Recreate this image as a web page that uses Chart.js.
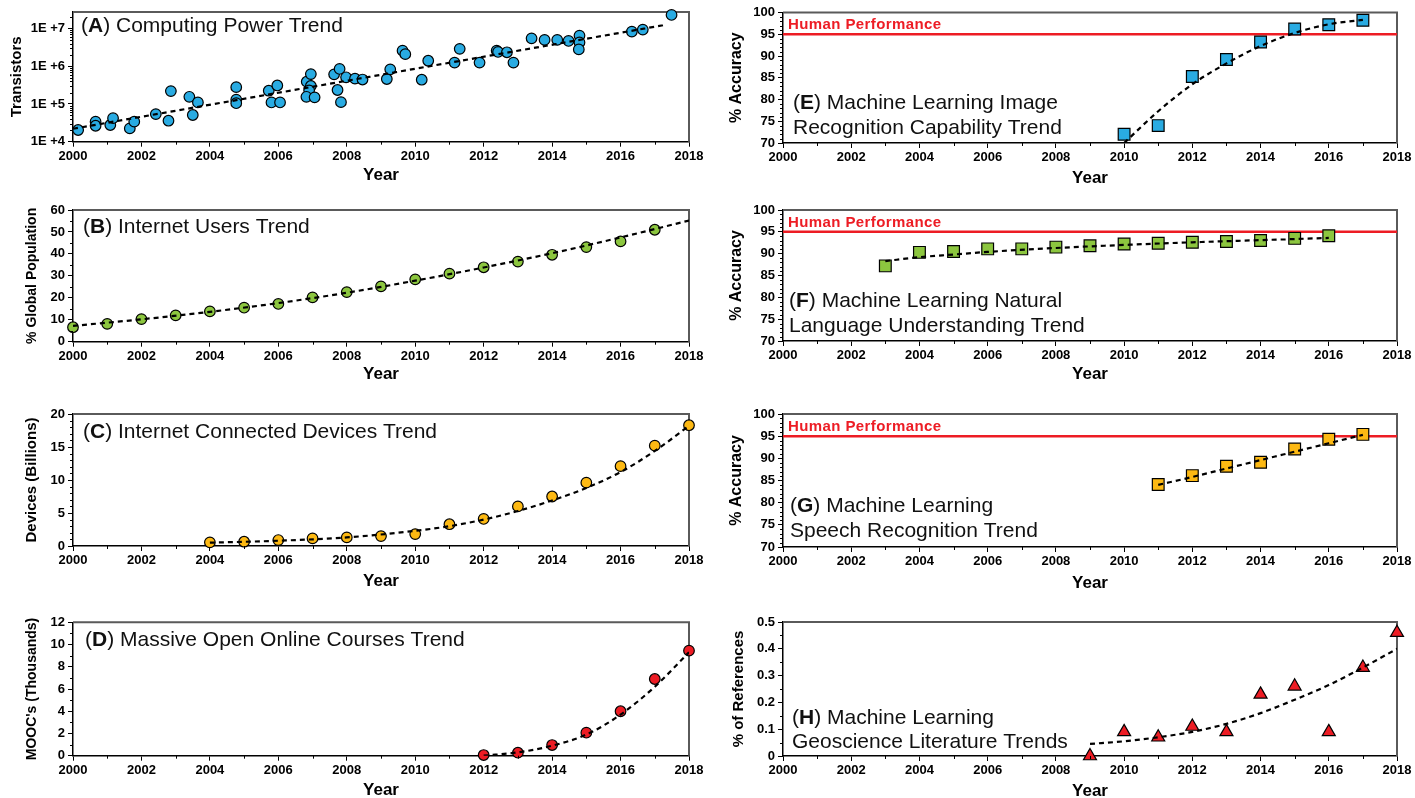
<!DOCTYPE html>
<html>
<head>
<meta charset="utf-8">
<script src="https://cdn.jsdelivr.net/npm/chart.js@4.4.1/dist/chart.umd.min.js"></script>
<style>
  html, body { margin: 0; padding: 0; background: #fff; }
  body { width: 1415px; height: 798px; position: relative; overflow: hidden; }
</style>
</head>
<body>
<script>
// (A) Computing power - transistor counts
const cpuYears = [2000.15, 2000.66, 2000.66, 2001.09, 2001.17, 2001.66, 2001.79, 2002.42, 2002.79, 2002.86,
  2003.4, 2003.5, 2003.65, 2004.77, 2004.77, 2004.77, 2005.72, 2005.8, 2005.97, 2006.05,
  2006.83, 2006.95, 2006.95, 2006.9, 2006.82, 2007.06, 2007.63, 2007.79, 2007.73, 2007.83,
  2007.98, 2008.24, 2008.46, 2009.17, 2009.27, 2009.63, 2009.71, 2010.19, 2010.38, 2011.15,
  2011.3, 2011.88, 2012.38, 2012.42, 2012.68, 2012.87, 2013.4, 2013.78, 2014.15, 2014.48,
  2014.8, 2014.8, 2014.78, 2016.33, 2016.65, 2017.49];
const cpuTransistors = [2.04e4, 3.4e4, 2.65e4, 2.77e4, 4.2e4, 2.25e4, 3.4e4, 5.4e4, 3.6e4, 2.2e5,
  1.55e5, 5.1e4, 1.1e5, 2.8e5, 1.3e5, 1.05e5, 2.25e5, 1.1e5, 3.1e5, 1.1e5,
  3.9e5, 6.2e5, 3.0e5, 2.3e5, 1.55e5, 1.5e5, 6.1e5, 8.5e5, 2.35e5, 1.12e5,
  5.1e5, 4.7e5, 4.45e5, 4.6e5, 8.3e5, 2.6e6, 2.1e6, 4.4e5, 1.4e6, 1.25e6,
  2.9e6, 1.25e6, 2.6e6, 2.4e6, 2.35e6, 1.25e6, 5.5e6, 5.0e6, 5.0e6, 4.7e6,
  6.5e6, 4.3e6, 2.8e6, 8.3e6, 9.4e6, 2.3e7];
const cpuTrendYears = [2000, 2017.3];
const cpuTrendValues = [2.2e4, 1.25e7];

// (B) Internet users, % of global population
const userYears = [2000, 2001, 2002, 2003, 2004, 2005, 2006, 2007, 2008, 2009, 2010, 2011, 2012, 2013, 2014, 2015, 2016, 2017];
const userPercent = [6.6, 8.1, 10.3, 12.0, 13.8, 15.5, 17.2, 20.2, 22.6, 25.2, 28.4, 31.0, 33.9, 36.5, 39.6, 43.1, 45.7, 51.0];
const userTrendYears = [2000, 2002, 2004, 2006, 2008, 2010, 2012, 2014, 2016, 2018];
const userTrendValues = [7.2, 10.2, 13.6, 17.6, 22.3, 27.8, 33.8, 40.3, 47.5, 55.2];

// (C) Internet connected devices, billions
const deviceYears = [2004, 2005, 2006, 2007, 2008, 2009, 2010, 2011, 2012, 2013, 2014, 2015, 2016, 2017, 2018];
const deviceBillions = [0.55, 0.65, 0.9, 1.15, 1.3, 1.5, 1.8, 3.3, 4.1, 6.0, 7.5, 9.6, 12.1, 15.2, 18.3];
const deviceTrendYears = [2004, 2006, 2008, 2010, 2011, 2012, 2013, 2014, 2015, 2016, 2017, 2018];
const deviceTrendValues = [0.5, 0.8, 1.3, 2.3, 3.0, 4.0, 5.3, 6.9, 8.8, 11.2, 14.4, 18.2];

// (D) MOOCs, thousands
const moocYears = [2012, 2013, 2014, 2015, 2016, 2017, 2018];
const moocThousands = [0.06, 0.27, 0.96, 2.07, 4.0, 6.9, 9.45];
const moocTrendYears = [2012, 2013, 2014, 2015, 2016, 2017, 2018];
const moocTrendValues = [0, 0.3, 0.9, 1.9, 3.7, 6.2, 9.3];

// (E) image recognition accuracy
const imageYears = [2010, 2011, 2012, 2013, 2014, 2015, 2016, 2017];
const imageAccuracy = [72.0, 74.0, 85.3, 89.2, 93.2, 96.2, 97.2, 98.2];
const imageTrendYears = [2010, 2011, 2012, 2013, 2014, 2015, 2016, 2017];
const imageTrendValues = [70, 77.3, 83.5, 88.3, 92.3, 95.3, 97.3, 98.3];

// (F) natural language understanding accuracy
const languageYears = [2003, 2004, 2005, 2006, 2007, 2008, 2009, 2010, 2011, 2012, 2013, 2014, 2015, 2016];
const languageAccuracy = [87.2, 90.3, 90.5, 91.1, 91.1, 91.5, 91.8, 92.2, 92.4, 92.6, 92.8, 93.0, 93.5, 94.1];
const languageTrendYears = [2003, 2004, 2005, 2006, 2008, 2010, 2012, 2014, 2016];
const languageTrendValues = [88.3, 89.2, 89.8, 90.4, 91.3, 92.0, 92.6, 93.1, 93.6];

// (G) speech recognition accuracy
const speechYears = [2011, 2012, 2013, 2014, 2015, 2016, 2017];
const speechAccuracy = [84.1, 86.1, 88.2, 89.1, 92.1, 94.3, 95.4];
const speechTrendYears = [2011, 2012, 2013, 2014, 2015, 2016, 2017];
const speechTrendValues = [84.0, 85.8, 87.7, 89.6, 91.5, 93.4, 95.3];

// (H) ML share of geoscience references, %
const geoYears = [2009, 2010, 2011, 2012, 2013, 2014, 2015, 2016, 2017, 2018];
const geoPercent = [0.0, 0.09, 0.07, 0.11, 0.09, 0.23, 0.26, 0.09, 0.33, 0.46];
const geoTrendYears = [2009, 2010, 2011, 2012, 2013, 2014, 2015, 2016, 2017, 2018];
const geoTrendValues = [0.045, 0.055, 0.07, 0.09, 0.12, 0.16, 0.21, 0.265, 0.33, 0.40];

const humanLevel = 95;

const FONT = "'Liberation Sans', Arial, Helvetica, sans-serif";
const BLUE = '#29abe2', GREEN = '#8cc63f', YELLOW = '#fdb913', RED = '#ed1c24';
const TICK_SIZE = 13;
const YEAR_SIZE = 17;

// frame, minor ticks, panel labels
const decoPlugin = {
  id: 'deco',
  beforeDatasetsDraw(chart) {
    const { ctx, chartArea: a } = chart;
    ctx.save();
    ctx.strokeStyle = '#5a5a5a';
    ctx.lineWidth = 2;
    ctx.beginPath();
    ctx.moveTo(a.left, a.top);
    ctx.lineTo(a.right, a.top);
    ctx.lineTo(a.right, a.bottom);
    ctx.stroke();
    ctx.restore();
  },
  afterDraw(chart, args, opts) {
    const { ctx, chartArea: a, scales } = chart;
    const xs = scales.x, ys = scales.y;
    ctx.save();
    ctx.strokeStyle = '#000';
    ctx.lineWidth = 1;
    ctx.beginPath();
    // minor x ticks (odd years)
    const nx = Math.round((xs.max - xs.min) / opts.xMinor);
    for (let i = 0; i <= nx; i++) {
      const v = xs.min + i * opts.xMinor;
      if (Math.abs(v / 2 - Math.round(v / 2)) < 1e-6) continue;
      const px = Math.round(xs.getPixelForValue(v)) + 0.5;
      ctx.moveTo(px, a.bottom);
      ctx.lineTo(px, a.bottom + 3);
    }
    // minor y ticks
    if (ys.type === 'logarithmic') {
      for (let k = Math.floor(Math.log10(ys.min)); k <= Math.ceil(Math.log10(ys.max)); k++) {
        for (let m = 2; m <= 9; m++) {
          const v = m * Math.pow(10, k);
          if (v < ys.min || v > ys.max) continue;
          const py = Math.round(ys.getPixelForValue(v)) + 0.5;
          ctx.moveTo(a.left, py);
          ctx.lineTo(a.left - 3, py);
        }
      }
    } else {
      const ny = Math.round((ys.max - ys.min) / opts.yMinor);
      for (let i = 0; i <= ny; i++) {
        const v = ys.min + i * opts.yMinor;
        const r = v / opts.yMajor;
        if (Math.abs(r - Math.round(r)) < 1e-6) continue;
        const py = Math.round(ys.getPixelForValue(v)) + 0.5;
        ctx.moveTo(a.left, py);
        ctx.lineTo(a.left - 3, py);
      }
    }
    ctx.stroke();

    // panel label, letter in bold
    ctx.fillStyle = '#111';
    ctx.textBaseline = 'alphabetic';
    let x = a.left + opts.dx;
    const y0 = a.top + opts.dy[0];
    ctx.font = `21px ${FONT}`;
    ctx.fillText('(', x, y0);
    x += ctx.measureText('(').width;
    ctx.font = `bold 21px ${FONT}`;
    ctx.fillText(opts.letter, x, y0);
    x += ctx.measureText(opts.letter).width;
    ctx.font = `21px ${FONT}`;
    ctx.fillText(')' + opts.lines[0], x, y0);
    for (let i = 1; i < opts.lines.length; i++) {
      ctx.fillText(opts.lines[i], a.left + opts.dx, a.top + opts.dy[i]);
    }

    if (opts.human) {
      ctx.fillStyle = RED;
      ctx.font = `bold 15px ${FONT}`;
      ctx.letterSpacing = '0.4px';
      ctx.fillText('Human Performance', a.left + 5, ys.getPixelForValue(humanLevel) - 5);
    }
    ctx.restore();
  }
};

const LEFT = { x: 0, w: 720, areaLeft: 73, areaRight: 689 };
const RIGHT = { x: 720, w: 695, areaLeft: 783, areaRight: 1397 };

const panels = [
  { ...LEFT, areaTop: 12, areaBottom: 141.7, yearY: 175.5,
    letter: 'A', lines: [' Computing Power Trend'], dx: 8, dy: [20],
    xs: cpuYears, ys: cpuTransistors, tx: cpuTrendYears, ty: cpuTrendValues,
    color: BLUE, style: 'circle', radius: 5.3,
    yType: 'logarithmic', yMin: 1e4, yMax: 2.75e7,
    yTitle: 'Transistors', yTitleSize: 15, yTitleX: 17 },
  { ...LEFT, areaTop: 210, areaBottom: 341.7, yearY: 374.5,
    letter: 'B', lines: [' Internet Users Trend'], dx: 10, dy: [23.3],
    xs: userYears, ys: userPercent, tx: userTrendYears, ty: userTrendValues,
    color: GREEN, style: 'circle', radius: 5.3,
    yMin: 0, yMax: 60, yStep: 10, yMinor: 5,
    yTitle: '% Global Population', yTitleSize: 14, yTitleX: 32 },
  { ...LEFT, areaTop: 414, areaBottom: 546, yearY: 581.5,
    letter: 'C', lines: [' Internet Connected Devices Trend'], dx: 10, dy: [24],
    xs: deviceYears, ys: deviceBillions, tx: deviceTrendYears, ty: deviceTrendValues,
    color: YELLOW, style: 'circle', radius: 5.3,
    yMin: 0, yMax: 20, yStep: 5, yMinor: 1,
    yTitle: 'Devices (Billions)', yTitleSize: 15, yTitleX: 32 },
  { ...LEFT, areaTop: 622.3, areaBottom: 755.7, yearY: 790,
    letter: 'D', lines: [' Massive Open Online Courses Trend'], dx: 12, dy: [23.7],
    xs: moocYears, ys: moocThousands, tx: moocTrendYears, ty: moocTrendValues,
    color: RED, style: 'circle', radius: 5.3,
    yMin: 0, yMax: 12, yStep: 2, yMinor: 1,
    yTitle: "MOOC's (Thousands)", yTitleSize: 14, yTitleX: 32 },
  { ...RIGHT, areaTop: 12.5, areaBottom: 143, yearY: 178,
    letter: 'E', lines: [' Machine Learning Image', 'Recognition Capability Trend'], dx: 10, dy: [96.5, 121],
    xs: imageYears, ys: imageAccuracy, tx: imageTrendYears, ty: imageTrendValues,
    color: BLUE, style: 'rect', radius: 8.3, human: true,
    yMin: 70, yMax: 100, yStep: 5, yMinor: 1,
    yTitle: '% Accuracy', yTitleSize: 16, yTitleX: 737 },
  { ...RIGHT, areaTop: 210, areaBottom: 341, yearY: 374,
    letter: 'F', lines: [' Machine Learning Natural', 'Language Understanding Trend'], dx: 6, dy: [97.3, 122],
    xs: languageYears, ys: languageAccuracy, tx: languageTrendYears, ty: languageTrendValues,
    color: GREEN, style: 'rect', radius: 8.3, human: true,
    yMin: 70, yMax: 100, yStep: 5, yMinor: 1,
    yTitle: '% Accuracy', yTitleSize: 16, yTitleX: 737 },
  { ...RIGHT, areaTop: 414, areaBottom: 547, yearY: 583,
    letter: 'G', lines: [' Machine Learning', 'Speech Recognition Trend'], dx: 7, dy: [97.7, 122.7],
    xs: speechYears, ys: speechAccuracy, tx: speechTrendYears, ty: speechTrendValues,
    color: YELLOW, style: 'rect', radius: 8.3, human: true,
    yMin: 70, yMax: 100, yStep: 5, yMinor: 1,
    yTitle: '% Accuracy', yTitleSize: 16, yTitleX: 737 },
  { ...RIGHT, areaTop: 622, areaBottom: 756, yearY: 791,
    letter: 'H', lines: [' Machine Learning', 'Geoscience Literature Trends'], dx: 9, dy: [102, 125.7],
    xs: geoYears, ys: geoPercent, tx: geoTrendYears, ty: geoTrendValues,
    color: RED, style: 'triangle', radius: 7.5,
    yMin: 0, yMax: 0.5, yStep: 0.1, yMinor: 0.05,
    yTitle: '% of References', yTitleSize: 15, yTitleX: 739 }
];

function build(p) {
  const top = Math.floor(p.areaTop - 12);
  const xH = p.yearY - p.areaBottom + YEAR_SIZE * 0.6;
  const h = Math.ceil(p.areaBottom - top + xH + 3);
  const canvas = document.createElement('canvas');
  canvas.width = p.w;
  canvas.height = h;
  canvas.style.cssText = `position:absolute;left:${p.x}px;top:${top}px;width:${p.w}px;height:${h}px`;
  document.body.appendChild(canvas);

  const yW = p.areaLeft - p.x;
  const yLh = p.yTitleSize * 1.2;

  const datasets = [
    {
      type: 'line',
      data: p.tx.map((x, i) => ({ x, y: p.ty[i] })),
      borderColor: '#000',
      borderWidth: 2.2,
      borderDash: [5, 4],
      pointRadius: 0,
      fill: false,
      cubicInterpolationMode: 'monotone'
    },
    {
      type: 'scatter',
      data: p.xs.map((x, i) => ({ x, y: p.ys[i] })),
      pointStyle: p.style,
      pointRadius: p.radius,
      pointBackgroundColor: p.color,
      pointBorderColor: '#000',
      pointBorderWidth: 1.2,
      clip: false
    }
  ];
  if (p.human) {
    datasets.push({
      type: 'line',
      data: [{ x: 2000, y: humanLevel }, { x: 2018, y: humanLevel }],
      borderColor: RED,
      borderWidth: 2.5,
      pointRadius: 0
    });
  }

  const tickFont = { family: FONT, size: TICK_SIZE, weight: 'bold' };

  const yScale = {
    type: p.yType || 'linear',
    min: p.yMin,
    max: p.yMax,
    afterFit: s => { s.width = yW; },
    ticks: { color: '#000', font: tickFont, padding: 3, autoSkip: false },
    grid: { drawOnChartArea: false, tickLength: 5, color: '#000', lineWidth: 1 },
    border: { color: '#000', width: 1.5 },
    title: {
      display: true,
      text: p.yTitle,
      color: '#000',
      font: { family: FONT, size: p.yTitleSize, weight: 'bold' },
      padding: { top: p.yTitleX - p.x - yLh / 2, bottom: 0 }
    }
  };
  if (p.yType === 'logarithmic') {
    yScale.afterBuildTicks = s => { s.ticks = [1e4, 1e5, 1e6, 1e7].map(value => ({ value })); };
    yScale.ticks.callback = v => '1E +' + Math.round(Math.log10(v));
  } else {
    yScale.ticks.stepSize = p.yStep;
  }

  new Chart(canvas, {
    type: 'scatter',
    data: { datasets },
    options: {
      responsive: false,
      animation: false,
      devicePixelRatio: 1,
      events: [],
      layout: {
        padding: {
          top: p.areaTop - top,
          right: p.x + p.w - p.areaRight,
          bottom: h - (p.areaBottom - top) - xH,
          left: 0
        }
      },
      scales: {
        x: {
          type: 'linear',
          min: 2000,
          max: 2018,
          afterFit: s => { s.height = xH; },
          ticks: {
            stepSize: 2,
            autoSkip: false,
            maxRotation: 0,
            color: '#000',
            font: tickFont,
            padding: 2,
            callback: v => String(v)
          },
          grid: { drawOnChartArea: false, tickLength: 5, color: '#000', lineWidth: 1 },
          border: { color: '#000', width: 1.5 },
          title: {
            display: true,
            text: 'Year',
            color: '#000',
            font: { family: FONT, size: YEAR_SIZE, weight: 'bold' },
            padding: { top: 0, bottom: 0 }
          }
        },
        y: yScale
      },
      plugins: {
        legend: { display: false },
        tooltip: { enabled: false },
        deco: {
          letter: p.letter,
          lines: p.lines,
          dx: p.dx,
          dy: p.dy,
          human: !!p.human,
          xMinor: 1,
          yMinor: p.yMinor,
          yMajor: p.yStep
        }
      }
    },
    plugins: [decoPlugin]
  });
}

panels.forEach(build);
</script>
</body>
</html>
